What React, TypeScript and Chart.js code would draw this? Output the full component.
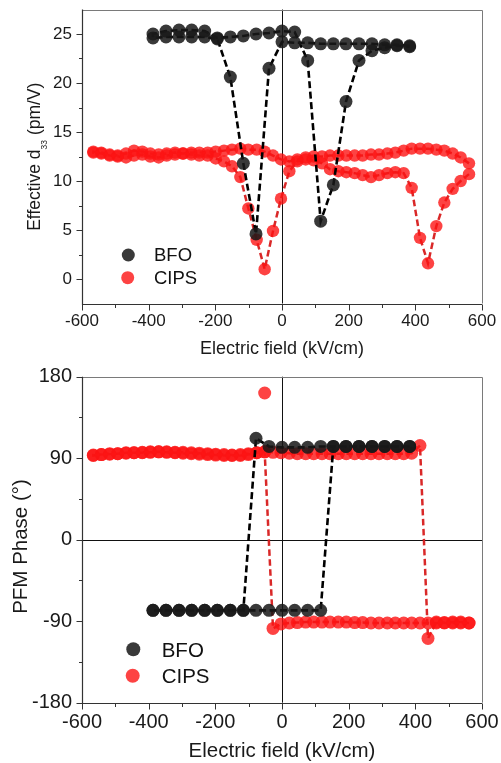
import React, { useEffect, useRef } from "react";
import { Chart, registerables } from "chart.js";

Chart.register(...registerables);

const FONT = '"Liberation Sans", Arial, Helvetica, sans-serif';

// ---------- data ----------
// BFO (kV/cm)
const bfoField = [-387, -348, -309, -271, -232, -194, -155, -116, -78, -39, 0, 38, 77, 116, 154, 192, 231, 270, 308, 345, 383];
// d33 on the downward sweep (+ -> -) and upward sweep (- -> +), listed in field order
const bfoD33Down = [24.6, 24.7, 24.7, 24.7, 24.7, 24.5, 20.6, 11.8, 4.6, 21.5, 24.2, 24.1, 24.1, 24.0, 24.0, 24.0, 24.0, 24.0, 23.9, 23.9, 23.8];
const bfoD33Up = [25.0, 25.3, 25.4, 25.4, 25.3, 24.6, 24.7, 24.8, 25.0, 25.1, 25.3, 25.2, 22.3, 5.9, 9.6, 18.1, 22.3, 23.3, 23.6, 23.8, 23.7];
const bfoPhaseDown = [-78, -78, -78, -78, -78, -78, -78, -78, 112, 103, 102, 102, 102, 103, 103, 103, 103, 103, 103, 103, 103];
const bfoPhaseUp = [-78, -78, -78, -78, -78, -78, -78, -78, -78, -78, -78, -78, -78, -78, 103, 103, 103, 103, 103, 103, 103];

// CIPS (kV/cm)
const cipsField = [-566, -542, -517, -493, -468, -444, -419, -395, -370, -346, -321, -297, -272, -248, -223, -199, -174, -150, -125, -101, -76, -52, -27, -3, 22, 46, 71, 95, 120, 144, 169, 193, 218, 242, 267, 291, 316, 340, 365, 389, 414, 438, 463, 487, 512, 536, 561];
const cipsD33Down = [13.0, 12.9, 12.7, 12.6, 12.8, 13.1, 13.0, 12.8, 12.7, 12.8, 12.9, 12.8, 12.9, 12.9, 12.9, 13.0, 13.1, 13.2, 13.3, 13.2, 13.2, 13.0, 12.6, 12.2, 12.0, 12.2, 12.4, 12.5, 12.5, 12.6, 12.6, 12.6, 12.6, 12.6, 12.7, 12.7, 12.8, 12.9, 13.1, 13.3, 13.3, 13.3, 13.2, 13.1, 12.8, 12.4, 11.8];
const cipsD33Up = [12.9, 12.8, 12.6, 12.5, 12.4, 12.6, 12.7, 12.5, 12.4, 12.6, 12.7, 12.8, 12.7, 12.6, 12.6, 12.3, 12.0, 11.5, 10.4, 7.2, 4.0, 1.0, 4.9, 8.2, 11.0, 12.0, 12.2, 12.1, 11.8, 11.2, 11.0, 10.9, 10.8, 10.6, 10.4, 10.6, 10.8, 10.9, 10.8, 9.3, 4.2, 1.6, 5.4, 7.8, 9.2, 10.0, 10.7];
const cipsPhaseDown = [93, 94, 95, 95, 96, 96, 96.5, 97, 97, 96.5, 96, 95.5, 95, 94.5, 94, 93.5, 93, 93, 94, 95, 96, 97, -98, -93, -92, -91.5, -91, -91, -91, -91, -91, -91, -91.5, -91.5, -92, -92, -92, -92, -92, -92, -92, -92, -92, -92, -92, -92, -92];
const cipsPhaseUp = [93.5, 94, 94.5, 95, 95.5, 96, 96, 96.5, 97, 97, 96.5, 96.5, 96, 95.5, 95, 94.5, 94, 93.5, 93, 94, 96, 97, 96.5, 96, 95.5, 95, 95, 95, 95, 95, 95, 95, 95, 95, 95, 95, 95, 95, 95, 95.5, 104, -109, -91, -91.5, -91, -91, -92];
const cipsPhaseOutlierField = [-52];
const cipsPhaseOutlier = [162];

// ticks
const fieldTicks = [-600, -400, -200, 0, 200, 400, 600];
const fieldMinor = [-500, -300, -100, 100, 300, 500];
const d33Ticks = [0, 5, 10, 15, 20, 25];
const d33Minor = [2.5, 7.5, 12.5, 17.5, 22.5];
const phaseTicks = [-180, -90, 0, 90, 180];
const phaseMinor = [-135, -45, 45, 135];

// ---------- helpers ----------
function loop(field: number[], down: number[], up: number[]) {
  const pts: { x: number; y: number }[] = [];
  for (let i = field.length - 1; i >= 0; i--) pts.push({ x: field[i], y: down[i] });
  for (let i = 0; i < field.length; i++) pts.push({ x: field[i], y: up[i] });
  return pts;
}
function pairs(field: number[], vals: number[]) {
  return field.map((x, i) => ({ x, y: vals[i] }));
}

const BLACK_PT = "rgba(24,24,24,0.86)";
const RED_PT = "rgba(252,20,20,0.8)";

type TitlePart = { text: string; size: number; dy: number };
type Deco = {
  xMajors: number[]; xMinors: number[]; yMajors: number[]; yMinors: number[];
  hZero: boolean;
  xTitle: { text: string; size: number; baseline: number };
  yTitle: { parts: TitlePart[]; x: number; cy: number };
  legend: { size: number; r: number; items: { label: string; color: string; cx: number; cy: number; tx: number; ty: number }[] };
};

function decoPlugin(d: Deco) {
  return {
    id: "deco",
    beforeDatasetsDraw(chart: any) {
      const ctx = chart.ctx;
      const { left, right, top, bottom } = chart.chartArea;
      const xs = chart.scales.x, ys = chart.scales.y;
      ctx.save();
      ctx.strokeStyle = "#111";
      ctx.lineWidth = 1;
      const x0 = Math.round(xs.getPixelForValue(0)) + 0.5;
      ctx.beginPath(); ctx.moveTo(x0, top); ctx.lineTo(x0, bottom); ctx.stroke();
      if (d.hZero) {
        const y0 = Math.round(ys.getPixelForValue(0)) + 0.5;
        ctx.beginPath(); ctx.moveTo(left, y0); ctx.lineTo(right, y0); ctx.stroke();
      }
      ctx.restore();
    },
    afterDraw(chart: any) {
      const ctx = chart.ctx;
      const { left, right, top, bottom } = chart.chartArea;
      const xs = chart.scales.x, ys = chart.scales.y;
      ctx.save();
      // frame
      ctx.lineWidth = 1;
      ctx.strokeStyle = "#7a7a7a";
      ctx.beginPath();
      ctx.moveTo(left, Math.round(top) + 0.5); ctx.lineTo(Math.round(right) + 0.5, Math.round(top) + 0.5);
      ctx.lineTo(Math.round(right) + 0.5, bottom);
      ctx.stroke();
      ctx.strokeStyle = "#333";
      ctx.lineWidth = 1.2;
      const lx = Math.round(left) + 0.5, by = Math.round(bottom) + 0.5;
      ctx.beginPath();
      ctx.moveTo(lx, top); ctx.lineTo(lx, by); ctx.lineTo(right, by);
      ctx.stroke();
      // ticks
      ctx.lineWidth = 1;
      ctx.beginPath();
      d.xMajors.forEach((v) => { const p = Math.round(xs.getPixelForValue(v)) + 0.5; ctx.moveTo(p, by); ctx.lineTo(p, by + 6); });
      d.xMinors.forEach((v) => { const p = Math.round(xs.getPixelForValue(v)) + 0.5; ctx.moveTo(p, by); ctx.lineTo(p, by + 3.5); });
      d.yMajors.forEach((v) => { const p = Math.round(ys.getPixelForValue(v)) + 0.5; ctx.moveTo(lx, p); ctx.lineTo(lx - 6, p); });
      d.yMinors.forEach((v) => { const p = Math.round(ys.getPixelForValue(v)) + 0.5; ctx.moveTo(lx, p); ctx.lineTo(lx - 3.5, p); });
      ctx.stroke();
      // x title
      ctx.fillStyle = "#1a1a1a";
      ctx.textAlign = "center";
      ctx.textBaseline = "alphabetic";
      ctx.font = `${d.xTitle.size}px ${FONT}`;
      ctx.fillText(d.xTitle.text, (left + right) / 2, d.xTitle.baseline);
      // y title (rotated, with optional subscript parts)
      ctx.save();
      ctx.translate(d.yTitle.x, d.yTitle.cy);
      ctx.rotate(-Math.PI / 2);
      ctx.textAlign = "left";
      let total = 0;
      const widths = d.yTitle.parts.map((p) => { ctx.font = `${p.size}px ${FONT}`; const w = ctx.measureText(p.text).width; total += w; return w; });
      let cur = -total / 2;
      d.yTitle.parts.forEach((p, i) => { ctx.font = `${p.size}px ${FONT}`; ctx.fillText(p.text, cur, p.dy); cur += widths[i]; });
      ctx.restore();
      // legend
      ctx.font = `${d.legend.size}px ${FONT}`;
      ctx.textAlign = "left";
      d.legend.items.forEach((it) => {
        ctx.fillStyle = it.color;
        ctx.beginPath(); ctx.arc(it.cx, it.cy, d.legend.r, 0, Math.PI * 2); ctx.fill();
        ctx.fillStyle = "#111";
        ctx.fillText(it.label, it.tx, it.ty);
      });
      ctx.restore();
    },
  };
}

function makeConfig(opts: {
  datasets: any[]; yMin: number; yMax: number; yTicks: number[]; tickSize: number;
  padTop: number; xAxisH: number; deco: Deco;
}) {
  return {
    type: "scatter",
    data: { datasets: opts.datasets },
    options: {
      responsive: false,
      maintainAspectRatio: false,
      animation: false,
      devicePixelRatio: 1,
      layout: { padding: { left: 0, right: 19, top: opts.padTop, bottom: 0 } },
      plugins: { legend: { display: false }, tooltip: { enabled: false } },
      scales: {
        x: {
          type: "linear", min: -600, max: 600,
          grid: { display: false, drawTicks: false },
          border: { display: false },
          afterBuildTicks: (s: any) => { s.ticks = fieldTicks.map((v) => ({ value: v })); },
          afterFit: (s: any) => { s.height = opts.xAxisH; s.paddingLeft = 0; s.paddingRight = 0; },
          ticks: { font: { family: FONT, size: opts.tickSize }, color: "#1a1a1a", padding: 8, maxRotation: 0, autoSkip: false },
        },
        y: {
          type: "linear", min: opts.yMin, max: opts.yMax,
          grid: { display: false, drawTicks: false },
          border: { display: false },
          afterBuildTicks: (s: any) => { s.ticks = opts.yTicks.map((v) => ({ value: v })); },
          afterFit: (s: any) => { s.width = 82; s.paddingTop = 0; s.paddingBottom = 0; },
          ticks: { font: { family: FONT, size: opts.tickSize }, color: "#1a1a1a", padding: 10, autoSkip: false },
        },
      },
    },
    plugins: [decoPlugin(opts.deco)],
  };
}

function ChartCanvas({ width, height, config }: { width: number; height: number; config: () => any }) {
  const ref = useRef<HTMLCanvasElement | null>(null);
  useEffect(() => {
    if (!ref.current) return;
    const chart = new Chart(ref.current, config());
    return () => chart.destroy();
  }, []);
  return <canvas ref={ref} width={width} height={height} style={{ display: "block", width, height }} />;
}

const BLACK_LINE = { borderColor: "#000", borderWidth: 2.6, borderDash: [7, 3.5], tension: 0 };
const RED_LINE = { borderColor: "rgba(215,28,28,0.95)", borderWidth: 2.5, borderDash: [6.5, 3.5], tension: 0 };

export default function App() {
  const topConfig = () =>
    makeConfig({
      yMin: -2.5, yMax: 27.5, yTicks: d33Ticks, tickSize: 17, padTop: 9.5, xAxisH: 56.5,
      datasets: [
        {
          label: "BFO", data: loop(bfoField, bfoD33Down, bfoD33Up), showLine: true, ...BLACK_LINE,
          pointRadius: 6.5, pointBackgroundColor: BLACK_PT, pointBorderWidth: 0,
        },
        {
          label: "CIPS", data: loop(cipsField, cipsD33Down, cipsD33Up), showLine: true, ...RED_LINE,
          pointRadius: 6.2, pointBackgroundColor: RED_PT, pointBorderWidth: 0,
        },
      ],
      deco: {
        xMajors: fieldTicks, xMinors: fieldMinor, yMajors: d33Ticks, yMinors: d33Minor, hZero: false,
        xTitle: { text: "Electric field (kV/cm)", size: 18, baseline: 353.5 },
        yTitle: {
          x: 39.5, cy: 156.7,
          parts: [
            { text: "Effective d", size: 17.5, dy: 0 },
            { text: "33", size: 8.5, dy: 7 },
            { text: " (pm/V)", size: 17.5, dy: 0 },
          ],
        },
        legend: {
          size: 18.5, r: 6.5,
          items: [
            { label: "BFO", color: BLACK_PT, cx: 128.3, cy: 255, tx: 154, ty: 261 },
            { label: "CIPS", color: RED_PT, cx: 127.7, cy: 277.7, tx: 154, ty: 284 },
          ],
        },
      },
    });

  const bottomConfig = () =>
    makeConfig({
      yMin: -180, yMax: 180, yTicks: phaseTicks, tickSize: 20, padTop: 16.7, xAxisH: 60.3,
      datasets: [
        {
          label: "BFO", data: loop(bfoField, bfoPhaseDown, bfoPhaseUp), showLine: true, ...BLACK_LINE,
          pointRadius: 6.5, pointBackgroundColor: BLACK_PT, pointBorderWidth: 0,
        },
        {
          label: "CIPS", data: loop(cipsField, cipsPhaseDown, cipsPhaseUp), showLine: true, ...RED_LINE,
          pointRadius: 6.5, pointBackgroundColor: RED_PT, pointBorderWidth: 0,
        },
        {
          label: "CIPS outlier", data: pairs(cipsPhaseOutlierField, cipsPhaseOutlier), showLine: false,
          pointRadius: 6.5, pointBackgroundColor: RED_PT, pointBorderWidth: 0,
        },
      ],
      deco: {
        xMajors: fieldTicks, xMinors: fieldMinor, yMajors: phaseTicks, yMinors: phaseMinor, hZero: true,
        xTitle: { text: "Electric field (kV/cm)", size: 20.5, baseline: 396.5 },
        yTitle: { x: 27, cy: 186.5, parts: [{ text: "PFM Phase (°)", size: 20.5, dy: 0 }] },
        legend: {
          size: 20.5, r: 7,
          items: [
            { label: "BFO", color: BLACK_PT, cx: 133.3, cy: 289.3, tx: 161.7, ty: 297.3 },
            { label: "CIPS", color: RED_PT, cx: 132.7, cy: 315.7, tx: 161.7, ty: 323.3 },
          ],
        },
      },
    });

  return (
    <div style={{ position: "absolute", left: 0, top: 0, width: 501, height: 763, background: "#fff" }}>
      <div style={{ position: "absolute", left: 0, top: 0 }}>
        <ChartCanvas width={501} height={360} config={topConfig} />
      </div>
      <div style={{ position: "absolute", left: 0, top: 360 }}>
        <ChartCanvas width={501} height={403} config={bottomConfig} />
      </div>
    </div>
  );
}
